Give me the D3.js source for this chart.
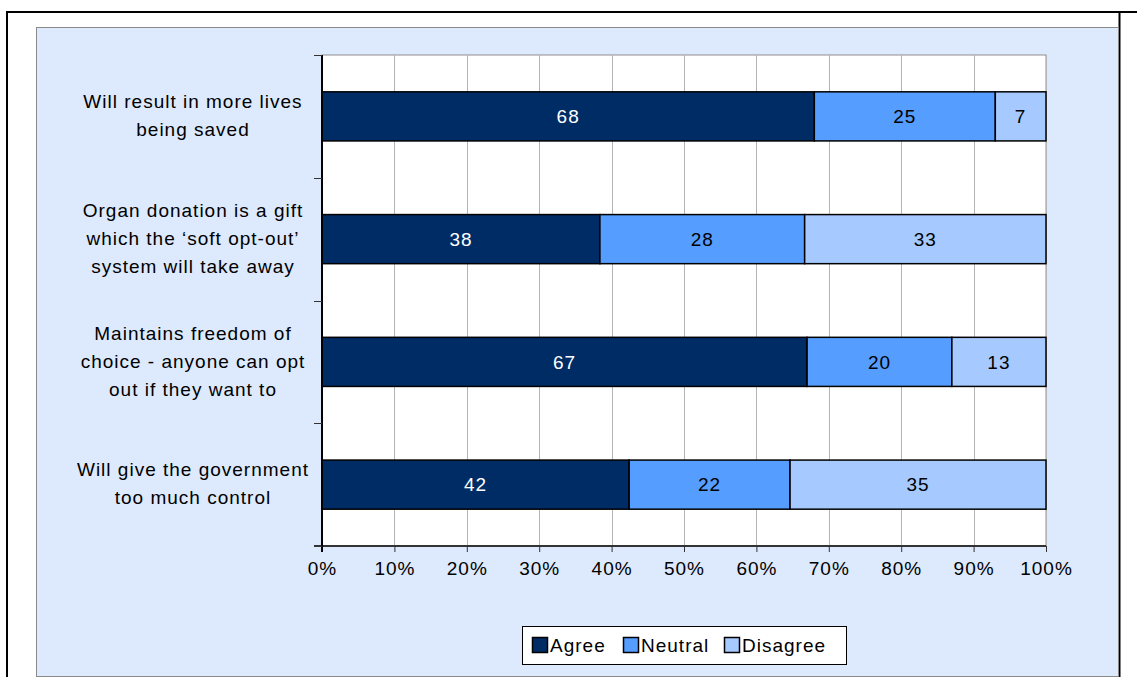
<!DOCTYPE html>
<html>
<head>
<meta charset="utf-8">
<script src="https://cdn.jsdelivr.net/npm/d3@7"></script>
<style>
  body { margin: 0; background: #fff; }
  text { font-family: Arial, "Liberation Sans", sans-serif; letter-spacing: 1px; }
</style>
</head>
<body>
<script>
// chart data
const categories = [
    ["Will result in more lives", "being saved"],
    ["Organ donation is a gift", "which the \u2018soft opt-out\u2019", "system will take away"],
    ["Maintains freedom of", "choice - anyone can opt", "out if they want to"],
    ["Will give the government", "too much control"]
];
const seriesNames = ["Agree", "Neutral", "Disagree"];
const agree = [68, 38, 67, 42];
const neutral = [25, 28, 20, 22];
const disagree = [7, 33, 13, 35];
const tickValues = [0, 0.1, 0.2, 0.3, 0.4, 0.5, 0.6, 0.7, 0.8, 0.9, 1];
const colors = ["#002c66", "#559dff", "#a6caff"];

const W = 1137, H = 677;
const FS = 19;
const svg = d3.select("body").append("svg").attr("width", W).attr("height", H);

// outer frame (bottom cut off)
svg.append("path")
    .attr("d", "M7,677 V12 H1137 M1119.5,12 V677")
    .attr("fill", "none").attr("stroke", "#000").attr("stroke-width", 2);

// light blue chart area
svg.append("rect")
    .attr("x", 36.5).attr("y", 27.5).attr("width", 1082).attr("height", 649)
    .attr("fill", "#dde9fd").attr("stroke", "#8a8a8a").attr("stroke-width", 1);

const plot = { left: 322, right: 1046, top: 55, bottom: 546 };

const x = d3.scaleLinear().domain([0, 1]).range([plot.left, plot.right]);
const y = d3.scaleBand().domain(d3.range(categories.length))
    .range([plot.top, plot.bottom]).paddingInner(0.6).paddingOuter(0.3);

// plot background
svg.append("rect")
    .attr("x", plot.left).attr("y", plot.top)
    .attr("width", plot.right - plot.left).attr("height", plot.bottom - plot.top)
    .attr("fill", "#fff").attr("stroke", "#909090");

// gridlines
svg.append("g").selectAll("line")
    .data(tickValues.slice(1))
    .enter().append("line")
    .attr("x1", d => Math.round(x(d)) + 0.5).attr("x2", d => Math.round(x(d)) + 0.5)
    .attr("y1", plot.top).attr("y2", plot.bottom)
    .attr("stroke", "#b4b4b4");

// stacked 100% data
const rows = categories.map((c, i) => {
    const vals = [agree[i], neutral[i], disagree[i]];
    const total = d3.sum(vals);
    let acc = 0;
    return vals.map((v, j) => {
        const seg = { i: i, j: j, v: v, x0: acc / total, x1: (acc + v) / total };
        acc += v;
        return seg;
    });
});

const bars = svg.append("g");
rows.forEach(row => {
    bars.selectAll(null).data(row).enter().append("rect")
        .attr("x", d => x(d.x0))
        .attr("y", d => y(d.i))
        .attr("width", d => x(d.x1) - x(d.x0))
        .attr("height", y.bandwidth())
        .attr("fill", d => colors[d.j])
        .attr("stroke", "#000").attr("stroke-width", 1.5);

    bars.selectAll(null).data(row).enter().append("text")
        .attr("x", d => (x(d.x0) + x(d.x1)) / 2)
        .attr("y", d => y(d.i) + y.bandwidth() / 2)
        .attr("dy", "0.35em")
        .attr("text-anchor", "middle")
        .attr("font-size", FS)
        .attr("fill", d => d.j == 0 ? "#fff" : "#000")
        .text(d => d.v);
});

// x axis
const xAxis = d3.axisBottom(x).tickValues(tickValues).tickFormat(d3.format(".0%")).tickSize(6).tickPadding(10);
const gx = svg.append("g").attr("transform", "translate(0," + plot.bottom + ")").call(xAxis);
gx.select(".domain").attr("stroke", "#333").attr("stroke-width", 2).attr("d", "M" + (plot.left - 8) + ",0H" + plot.right);
gx.selectAll(".tick line").attr("stroke", "#333");
gx.selectAll(".tick text").attr("font-size", FS).attr("fill", "#000")
    .style("font-family", "Arial, 'Liberation Sans', sans-serif");

// y axis line + category ticks at band edges
svg.append("line")
    .attr("x1", plot.left).attr("x2", plot.left)
    .attr("y1", plot.top).attr("y2", plot.bottom + 6)
    .attr("stroke", "#000").attr("stroke-width", 2);
const edges = d3.range(categories.length + 1).map(i => plot.top + i * y.step());
svg.append("g").selectAll("line")
    .data(edges).enter().append("line")
    .attr("x1", plot.left - 8).attr("x2", plot.left)
    .attr("y1", d => Math.round(d) + 0.5).attr("y2", d => Math.round(d) + 0.5)
    .attr("stroke", "#333");

// category labels
const lineH = 28;
categories.forEach((lines, i) => {
    const cy = y(i) + y.bandwidth() / 2 - 1;
    const t = svg.append("text")
        .attr("text-anchor", "middle")
        .attr("font-size", FS)
        .attr("fill", "#000");
    lines.forEach((ln, k) => {
        t.append("tspan")
            .attr("x", 193)
            .attr("y", cy + (k - (lines.length - 1) / 2) * lineH)
            .attr("dy", "0.35em")
            .text(ln);
    });
});

// legend
const lg = svg.append("g");
lg.append("rect")
    .attr("x", 522.5).attr("y", 626.5).attr("width", 324).attr("height", 38)
    .attr("fill", "#fff").attr("stroke", "#000");
const legendX = [532, 623, 724];
seriesNames.forEach((name, i) => {
    lg.append("rect")
        .attr("x", legendX[i] + 0.5).attr("y", 637.5).attr("width", 15).attr("height", 15)
        .attr("fill", colors[i]).attr("stroke", "#000").attr("stroke-width", 1.5);
    lg.append("text")
        .attr("x", legendX[i] + 18).attr("y", 645).attr("dy", "0.35em")
        .attr("font-size", FS).attr("fill", "#000")
        .text(name);
});
</script>
</body>
</html>
